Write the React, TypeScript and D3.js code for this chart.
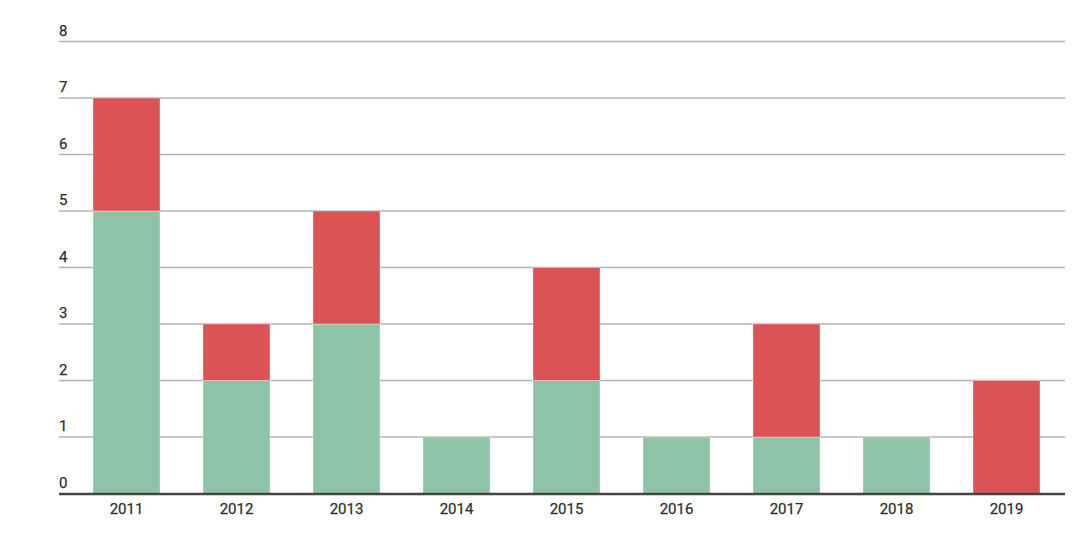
import React from "react";
import * as d3 from "d3";

const years = ["2011", "2012", "2013", "2014", "2015", "2016", "2017", "2018", "2019"];
const greenValues = [5, 2, 3, 1, 2, 1, 1, 1, 0];
const redValues = [2, 1, 2, 0, 2, 0, 2, 0, 2];
const yTicks = [0, 1, 2, 3, 4, 5, 6, 7, 8];

const GREEN = "#8fc3a7";
const RED = "#dc5356";

export default function App() {
  const width = 1091;
  const height = 542;
  const x = d3
    .scaleBand<string>()
    .domain(years)
    .range([71.5, 1061.5])
    .paddingInner(0.391)
    .paddingOuter(0.1955);
  const y = d3.scaleLinear().domain([0, 8]).range([493.5, 41.5]);

  const rows = years.map((yr, i) => ({ year: yr, green: greenValues[i], red: redValues[i] }));
  const stacked = d3.stack<any>().keys(["green", "red"])(rows);
  const colors: Record<string, string> = { green: GREEN, red: RED };

  return (
    <svg
      width={width}
      height={height}
      style={{ position: "absolute", left: 0, top: 0, fontFamily: "Roboto, sans-serif" }}
    >
      {yTicks.map((t) =>
        t === 0 ? null : (
          <line key={"g" + t} x1={59} x2={1065} y1={y(t)} y2={y(t)} stroke="#b3b3b3" strokeWidth={1.3} />
        )
      )}
      {stacked.map((layer) =>
        layer.map((d, i) =>
          d[1] - d[0] > 0 ? (
            <rect
              key={layer.key + i}
              x={x(years[i])}
              width={x.bandwidth()}
              y={y(d[1])}
              height={y(d[0]) - y(d[1])}
              fill={colors[layer.key]}
              stroke="#ffffff"
              strokeOpacity={0.35}
              strokeWidth={1}
            />
          ) : null
        )
      )}
      <line x1={59} x2={1065} y1={y(0) + 0.5} y2={y(0) + 0.5} stroke="#444" strokeWidth={2.5} />
      {yTicks.map((t) => (
        <text key={"t" + t} x={59} y={y(t) - 6} fontSize={15} fill="#2f2f2f" stroke="#2f2f2f" strokeWidth={0.25}>
          {t}
        </text>
      ))}
      {years.map((yr) => (
        <text
          key={"x" + yr}
          x={(x(yr) as number) + x.bandwidth() / 2}
          y={510}
          textAnchor="middle"
          dominantBaseline="middle"
          fontSize={15}
          fill="#2f2f2f"
          stroke="#2f2f2f"
          strokeWidth={0.25}
        >
          {yr}
        </text>
      ))}
    </svg>
  );
}
